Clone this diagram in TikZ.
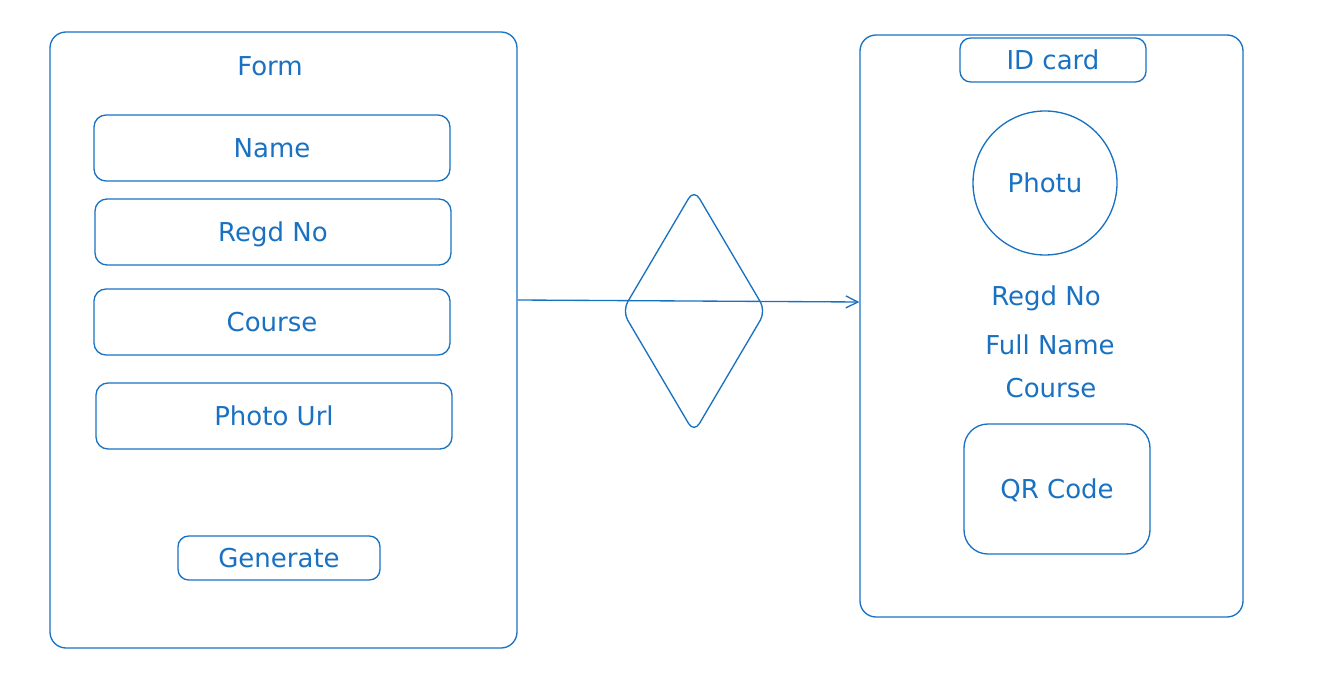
\documentclass[tikz,border=0pt]{standalone}
\usepackage{fontspec}
\setmainfont{DejaVu Sans}
\usetikzlibrary{shapes.geometric, arrows.meta}
\definecolor{sketch}{HTML}{1971C2}

\begin{document}
\begin{tikzpicture}[x=0.75pt,y=-0.75pt,
		every node/.style={text=sketch, font=\fontsize{19.5pt}{22pt}\selectfont, text height=14pt, text depth=0pt, inner sep=0pt},
		pane/.style={draw=sketch, line width=1pt, rounded corners=12pt},
		field/.style={draw=sketch, line width=1pt, rounded corners=9pt, minimum width=267pt, minimum height=49.5pt},
		btn/.style={draw=sketch, line width=1pt, rounded corners=8pt, minimum height=33pt},
		flow/.style={draw=sketch, line width=1pt, -{Straight Barb[length=9pt,width=9pt]}}]
		\useasboundingbox (0,0) rectangle (1320,691);
		%
		% form side
		\node (form) at (283.5,340) [pane, minimum width=350.25pt, minimum height=462pt] {};
		\node (formtitle) at (270,66) {Form};
		\node (name) at (272,148) [field] {Name};
		\node (regd) at (273,232) [field] {Regd No};
		\node (course) at (272,322) [field] {Course};
		\node (photourl) at (274,416) [field] {Photo Url};
		\node (generate) at (279,558) [btn, minimum width=151.5pt] {Generate};
		%
		%
		\node (check) at (694,311) [diamond, draw=sketch, line width=1pt, rounded corners=8pt, aspect=0.59, minimum width=108pt, minimum height=183pt] {};
		%
		%
		% id card side
		\node (card) at (1051.5,326) [pane, minimum width=287.25pt, minimum height=436.5pt] {};
		\node (cardtitle) at (1053,60) [btn, minimum width=139.5pt] {ID card};
		\node (photo) at (1045,183) [circle, draw=sketch, line width=1pt, minimum size=108pt] {Photu};
		\node (cregd) at (1046,296) {Regd No};
		\node (cname) at (1050,345) {Full Name};
		\node (ccourse) at (1051,388) {Course};
		\node (qr) at (1057,489) [pane, rounded corners=18pt, minimum width=139.5pt, minimum height=97.5pt] {QR Code};
		%
		%
		\draw[flow] (form.east |- 0,300) to (card.west |- 0,302);
	\end{tikzpicture}
\end{document}
